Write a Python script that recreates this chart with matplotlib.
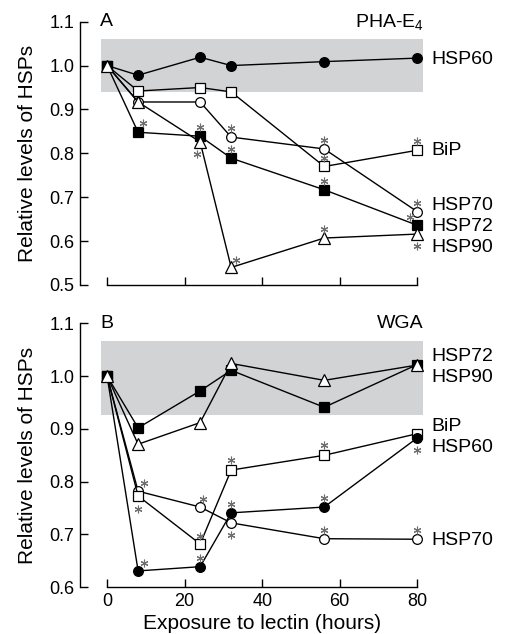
import matplotlib
matplotlib.use("Agg")
import matplotlib.pyplot as plt
import matplotlib.transforms as mtransforms

plt.rcParams['font.family'] = ['Liberation Sans', 'DejaVu Sans']
plt.rcParams['mathtext.default'] = 'regular'

hours = [0, 8, 24, 32, 56, 80]

# panel A: PHA-E4
a_hsp60 = [1.0, 0.978, 1.019, 1.0, 1.009, 1.017]
a_bip = [1.0, 0.942, 0.950, 0.940, 0.770, 0.807]
a_hsp70 = [1.0, 0.917, 0.917, 0.837, 0.810, 0.667]
a_hsp72 = [1.0, 0.848, 0.839, 0.789, 0.717, 0.636]
a_hsp90 = [1.0, 0.917, 0.826, 0.540, 0.607, 0.616]

# panel B: WGA
b_hsp72 = [1.0, 0.902, 0.972, 1.011, 0.941, 1.022]
b_hsp90 = [1.0, 0.871, 0.912, 1.024, 0.992, 1.021]
b_bip = [1.0, 0.773, 0.682, 0.822, 0.850, 0.891]
b_hsp60 = [1.0, 0.631, 0.639, 0.741, 0.752, 0.883]
b_hsp70 = [1.0, 0.782, 0.752, 0.722, 0.692, 0.691]

# significant points (series, hour) and where the star sits (pixels from point)
a_sig = [('HSP72', 8, 5, 9), ('HSP72', 24, 0, 9), ('HSP90', 24, -3, -12),
         ('HSP70', 32, 0, 9), ('HSP72', 32, 0, 9), ('HSP90', 32, 5, 7),
         ('HSP70', 56, 0, 9), ('BiP', 56, 0, 8), ('HSP72', 56, 0, 9),
         ('HSP90', 56, 0, 9), ('BiP', 80, 0, 9), ('HSP70', 80, 0, 9),
         ('HSP72', 80, -7, 8), ('HSP90', 80, 0, -12)]
b_sig = [('HSP70', 8, 6, 8), ('BiP', 8, 0, -13), ('HSP60', 8, 6, 8),
         ('HSP70', 24, 3, 8), ('BiP', 24, 0, 8), ('HSP60', 24, 0, 9),
         ('BiP', 32, 0, 10), ('HSP60', 32, 0, 9), ('HSP70', 32, 0, -12),
         ('BiP', 56, 0, 10), ('HSP60', 56, 0, 9), ('HSP70', 56, 0, 9),
         ('HSP60', 80, 0, -12), ('HSP70', 80, 0, 9)]

a_labels = [('HSP60', 1.013), ('BiP', 0.807), ('HSP70', 0.682),
            ('HSP72', 0.634), ('HSP90', 0.586)]
b_labels = [('HSP72', 1.038), ('HSP90', 0.998), ('BiP', 0.905),
            ('HSP60', 0.865), ('HSP70', 0.688)]

styles = {
    'HSP60': dict(marker='o', mfc='black', ms=7),
    'BiP': dict(marker='s', mfc='white', ms=6.5),
    'HSP70': dict(marker='o', mfc='white', ms=7),
    'HSP72': dict(marker='s', mfc='black', ms=6.5),
    'HSP90': dict(marker='^', mfc='white', ms=8),
}

fig = plt.figure(figsize=(5.06, 6.34), dpi=100)


def panel(rect, series, order, band, ylo, letter, title, sig, labels, bottom):
    ax = fig.add_axes(rect)
    ax.fill_between([-1.5, 81.5], band[0], band[1], color='#d2d3d5', lw=0, zorder=0)
    for name in order:
        st = styles[name]
        ax.plot(hours, series[name], color='black', lw=1.0, marker=st['marker'],
                ms=st['ms'], mfc=st['mfc'], mec='black', mew=0.9, zorder=3)
    for name, h, dx, dy in sig:
        y = series[name][hours.index(h)]
        tr = mtransforms.offset_copy(ax.transData, fig=fig, x=dx, y=dy, units='dots')
        ax.plot([h], [y], marker=(6, 2, 0), ms=5.5, mew=0.8, color='#6e6e6e',
                transform=tr, zorder=4, clip_on=False)
    for name, y in labels:
        ax.text(83.7, y, name, fontsize=14, va='center', ha='left')
    ax.text(-1.8, 1.1, letter, fontsize=14, va='center', ha='left')
    ax.text(81.6, 1.1, title, fontsize=14, va='center', ha='right')
    ax.set_xlim(-7, 82)
    ax.set_ylim(ylo, 1.1)
    ax.set_yticks([v / 10 for v in range(int(round(ylo * 10)), 12)])
    ax.yaxis.set_major_formatter(matplotlib.ticker.FormatStrFormatter('%.1f'))
    ax.set_xticks([0, 20, 40, 60, 80])
    for s in ['top', 'right']:
        ax.spines[s].set_visible(False)
    ax.spines['bottom'].set_bounds(0, 80)
    ax.spines['left'].set_linewidth(1.0)
    ax.spines['bottom'].set_linewidth(1.0)
    ax.tick_params(direction='in', length=6, width=1.0, labelsize=13, pad=4)
    ax.set_ylabel('Relative levels of HSPs', fontsize=15)
    ax.yaxis.set_label_coords(-0.125, 0.5)
    if bottom:
        ax.set_xlabel('Exposure to lectin (hours)', fontsize=15)
        ax.xaxis.set_label_coords(0.529, -0.10)
    else:
        ax.tick_params(axis='x', labelbottom=False)
    return ax


panel([0.158, 0.5505, 0.682, 0.4153],
      {'HSP60': a_hsp60, 'BiP': a_bip, 'HSP70': a_hsp70, 'HSP72': a_hsp72, 'HSP90': a_hsp90},
      ['HSP60', 'BiP', 'HSP70', 'HSP72', 'HSP90'],
      (0.94, 1.06), 0.5, 'A', 'PHA-E$_4$', a_sig, a_labels, False)

panel([0.158, 0.0737, 0.682, 0.4163],
      {'HSP60': b_hsp60, 'BiP': b_bip, 'HSP70': b_hsp70, 'HSP72': b_hsp72, 'HSP90': b_hsp90},
      ['HSP70', 'BiP', 'HSP60', 'HSP72', 'HSP90'],
      (0.927, 1.066), 0.6, 'B', 'WGA', b_sig, b_labels, True)

fig.savefig('out.png', dpi=100)
